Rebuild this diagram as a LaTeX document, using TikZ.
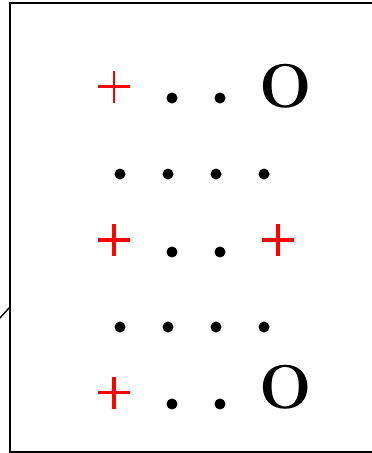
\documentclass[tikz,border=0pt]{standalone}
\begin{document}
\begin{tikzpicture}[x=1pt,y=-1pt,
  dotnode/.style={circle,fill=black,inner sep=0pt,minimum size=11pt},
  plusbase/.style={inner sep=0pt,minimum size=32pt,
    path picture={\draw[red,line width=#1]
      (path picture bounding box.west) -- (path picture bounding box.east)
      (path picture bounding box.north) -- (path picture bounding box.south);}},
  plusthin/.style={plusbase=2.6pt},
  plusthick/.style={plusbase=3.4pt},
  bigo/.style={inner sep=0pt,font=\fontsize{62}{64}\selectfont\bfseries},
  frameline/.style={line width=2.2pt}]
\useasboundingbox (0,0) rectangle (372,453);
\clip (0,0) rectangle (372,453);
% frame
\coordinate (tr) at (380,3);
\coordinate (tl) at (10,3);
\coordinate (bl) at (10,452);
\coordinate (br) at (380,452);
\draw[frameline] (tr) -- (tl) -- (bl) -- (br);
% stub line
\coordinate (s0) at (-1,319);
\coordinate (s1) at (10,307);
\draw[line width=1.4pt] (s0) -- (s1);
% row 1
\node[plusthin] (p1) at (114,86.5) {};
\node[dotnode] (d11) at (172,98) {};
\node[dotnode] (d12) at (220,98) {};
\node[bigo] (o1) at (286,86) {O};
% row 2
\node[dotnode] (d21) at (120,174) {};
\node[dotnode] (d22) at (168,174) {};
\node[dotnode] (d23) at (216,174) {};
\node[dotnode] (d24) at (264,174) {};
% row 3
\node[plusthick] (p3a) at (114,240) {};
\node[dotnode] (d31) at (172,252) {};
\node[dotnode] (d32) at (220,252) {};
\node[plusthick] (p3b) at (278,240) {};
% row 4
\node[dotnode] (d41) at (120,327) {};
\node[dotnode] (d42) at (168,327) {};
\node[dotnode] (d43) at (216,327) {};
\node[dotnode] (d44) at (264,327) {};
% row 5
\node[plusthick] (p5) at (114,392.5) {};
\node[dotnode] (d51) at (172,404) {};
\node[dotnode] (d52) at (220,404) {};
\node[bigo] (o5) at (286,387) {O};
\end{tikzpicture}
\end{document}
